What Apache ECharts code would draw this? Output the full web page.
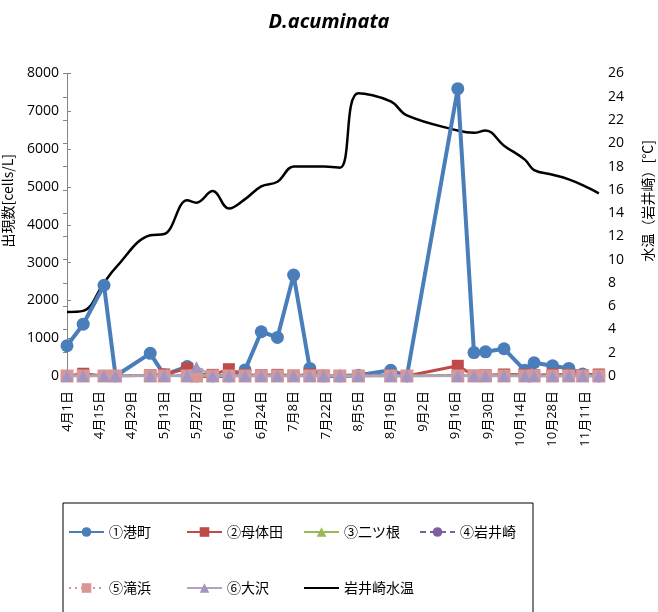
<!DOCTYPE html>
<html>
<head>
<meta charset="utf-8">
<script src="https://cdn.jsdelivr.net/npm/echarts@6/dist/echarts.min.js"></script>
<style>
  html, body { margin: 0; padding: 0; background: #fff; }
  #main { width: 658px; height: 612px; }
</style>
</head>
<body>
<div id="main"></div>
<script>
// sampling dates (month/day)
const sampleDates = ['4/1', '4/8', '4/17', '4/22', '5/7', '5/13', '5/23', '5/27', '6/3', '6/10',
  '6/17', '6/24', '7/1', '7/8', '7/15', '7/21', '7/28', '8/5', '8/19', '8/26',
  '9/17', '9/24', '9/29', '10/7', '10/16', '10/20', '10/28', '11/4', '11/10', '11/17']

// cells/L
const minatomachi = [800, 1370, 2400, 0, 600, 30, 250, 0, 0, 0,
  160, 1170, 1020, 2670, 200, 0, 0, 20, 150, 0,
  7600, 620, 640, 720, 150, 350, 270, 200, 50, 0]
const botaida = [0, 60, 0, 0, 20, 40, 200, 50, 30, 180,
  30, 20, 30, 10, 40, 10, 0, 0, 10, 0,
  270, 10, 20, 40, 30, 20, 40, 30, 20, 40]
const futatsune = [0, 0, 10, 0, 20, 10, 0, 10, 20, 0,
  0, 10, 0, 0, 10, 20, 0, 0, 10, 0,
  20, 0, 0, 10, 0, 0, 0, 0, 0, 0]
const iwaisaki = [0, 0, 0, 0, 0, 10, 0, 0, 0, 0,
  0, 0, 0, 0, 0, 0, 0, 0, 0, 0,
  0, 0, 0, 0, 0, 0, 0, 0, 0, 0]
const takihama = [0, 0, 0, 0, 0, 0, 0, 0, 0, 0,
  0, 0, 0, 0, 0, 0, 0, 0, 0, 0,
  0, 0, 0, 0, 0, 0, 0, 0, 0, 0]
const osawa = [0, 0, 0, 0, 0, 0, 0, 240, 0, 0,
  0, 0, 0, 0, 0, 0, 0, 0, 0, 0,
  0, 0, 0, 0, 0, 0, 0, 0, 0, 0]

// water temperature at Iwaisaki [°C]
const waterTemp = [5.5, 5.6, 8.0, 9.3, 12.1, 12.2, 15.1, 14.9, 15.9, 14.4,
  15.2, 16.3, 16.7, 18.0, 18.0, 18.0, 17.9, 24.3, 23.6, 22.4,
  21.1, 20.9, 21.1, 19.8, 18.6, 17.7, 17.3, 16.9, 16.4, 15.7]

const leftTicks = { min: 0, max: 8000, interval: 1000 }
const rightTicks = { min: 0, max: 26, interval: 2 }

const startDate = new Date(2013, 3, 1)
function dayOf(s) {
  const [m, d] = s.split('/').map(Number)
  return Math.round((new Date(2013, m - 1, d) - startDate) / 86400000)
}
function dateLabel(v) {
  const d = new Date(2013, 3, 1 + v)
  return (d.getMonth() + 1) + '月' + d.getDate() + '日'
}
const days = sampleDates.map(dayOf)
const pairs = (arr) => arr.map((v, i) => [days[i], v])

const font = '"Noto Sans CJK JP", "Noto Sans", sans-serif'
const numFont = '"Open Sans", "Noto Sans CJK JP", sans-serif'

const chart = echarts.init(document.getElementById('main'))

const series = [
  {
    name: '岩井崎水温', type: 'line', yAxisIndex: 1, data: pairs(waterTemp),
    smooth: 0.4, symbol: 'none', z: 1,
    lineStyle: { color: '#000', width: 2.5 }, itemStyle: { color: '#000' },
  },
  {
    name: '①港町', type: 'line', data: pairs(minatomachi), z: 2,
    symbol: 'circle', symbolSize: 13,
    lineStyle: { color: '#4A7EBB', width: 4 }, itemStyle: { color: '#4A7EBB' },
  },
  {
    name: '②母体田', type: 'line', data: pairs(botaida), z: 3,
    symbol: 'rect', symbolSize: 12,
    lineStyle: { color: '#BE4B48', width: 3 }, itemStyle: { color: '#BE4B48' },
  },
  {
    name: '③二ツ根', type: 'line', data: pairs(futatsune), z: 4,
    symbol: 'triangle', symbolSize: 9,
    lineStyle: { color: '#98B954', width: 3 }, itemStyle: { color: '#98B954' },
  },
  {
    name: '④岩井崎', type: 'line', data: pairs(iwaisaki), z: 5,
    symbol: 'circle', symbolSize: 9,
    lineStyle: { color: '#7D60A0', width: 2.5, type: [6, 4] }, itemStyle: { color: '#7D60A0' },
  },
  {
    name: '⑤滝浜', type: 'line', data: pairs(takihama), z: 6,
    symbol: 'rect', symbolSize: 13,
    lineStyle: { color: '#D99694', width: 2.5, type: [2, 4] }, itemStyle: { color: '#D99694' },
  },
  {
    name: '⑥大沢', type: 'line', data: pairs(osawa), z: 7,
    symbol: 'triangle', symbolSize: 12,
    lineStyle: { color: '#B3A2C7', width: 2.5 }, itemStyle: { color: '#A395C0' },
  },
]

const legendPos = [
  ['①港町', 68, 525], ['②母体田', 186, 525], ['③二ツ根', 303, 525], ['④岩井崎', 419, 525],
  ['⑤滝浜', 68, 581], ['⑥大沢', 186, 581], ['岩井崎水温', 303, 581],
]

const option = {
  animation: false,
  backgroundColor: '#fff',
  title: {
    text: 'D.acuminata', left: 'center', top: 7,
    textStyle: { fontFamily: '"Open Sans", sans-serif', fontStyle: 'italic', fontWeight: 'bold', fontSize: 20, color: '#000' },
  },
  legend: legendPos.map(([name, x, y]) => ({
    data: [name === '岩井崎水温' ? { name, itemStyle: { opacity: 0 } } : name],
    left: x, top: y, padding: 0,
    itemWidth: 35, itemHeight: 12, itemGap: 4,
    textStyle: { fontFamily: font, fontSize: 14, color: '#000' },
  })),
  grid: { left: 67, right: 58, top: 73.5, bottom: 236, outerBoundsMode: 'none' },
  xAxis: [
    {
      type: 'value', min: 0, max: 230.5, interval: 14,
      axisLine: { show: true, onZero: false, lineStyle: { color: '#868686' } },
      axisTick: { show: false },
      splitLine: { show: false },
      axisLabel: {
        rotate: 90, fontFamily: numFont, fontSize: 13, color: '#000', margin: 15,
        showMaxLabel: false, formatter: dateLabel,
      },
    },
    {
      type: 'value', position: 'top', min: 0, max: 230.5,
      axisLine: { show: true, lineStyle: { color: '#000', width: 1 } },
      axisTick: { show: false }, axisLabel: { show: false }, splitLine: { show: false },
    },
  ],
  yAxis: [
    {
      type: 'value', ...leftTicks,
      name: '出現数[cells/L]', nameLocation: 'middle', nameGap: 52, nameRotate: 90,
      nameTextStyle: { fontFamily: font, fontSize: 14, color: '#000', padding: [0, 0, 0, 48] },
      axisLine: { show: true, lineStyle: { color: '#868686' } },
      axisTick: { show: true, inside: true, length: 4, lineStyle: { color: '#868686' } },
      splitLine: { show: false },
      axisLabel: { fontFamily: numFont, fontSize: 14, color: '#000', margin: 8, formatter: (v) => String(v) },
    },
    {
      type: 'value', ...rightTicks, position: 'right',
      name: '水温（岩井崎）[°C]', nameLocation: 'middle', nameGap: 41, nameRotate: 90,
      nameTextStyle: { fontFamily: font, fontSize: 14, color: '#000', padding: [0, 0, 0, 48] },
      axisLine: { show: true, lineStyle: { color: '#868686' } },
      axisTick: { show: true, inside: true, length: 4, lineStyle: { color: '#868686' } },
      splitLine: { show: false },
      axisLabel: { fontFamily: numFont, fontSize: 14, color: '#000', margin: 8 },
    },
  ],
  graphic: [
    { type: 'rect', shape: { x: 63, y: 503, width: 470, height: 130 }, style: { fill: 'none', stroke: '#000', lineWidth: 1 }, silent: true },
  ],
  series: series,
}

chart.setOption(option)
</script>
</body>
</html>
